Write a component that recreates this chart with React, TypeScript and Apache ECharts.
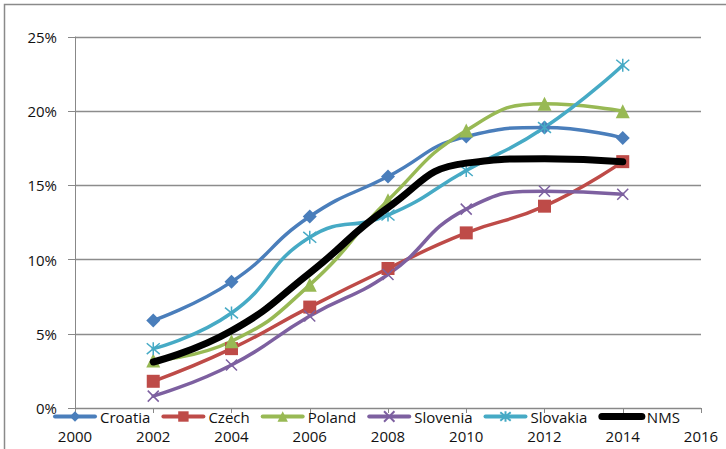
import React, { useEffect, useRef } from "react";
import * as echarts from "echarts";

const years = [2002, 2004, 2006, 2008, 2010, 2012, 2014];
const croatia = [5.9, 8.5, 12.9, 15.6, 18.3, 18.9, 18.2];
const czech = [1.8, 4.0, 6.8, 9.4, 11.8, 13.6, 16.6];
const poland = [3.2, 4.5, 8.3, 14.0, 18.7, 20.5, 20.0];
const slovenia = [0.8, 2.9, 6.2, 9.0, 13.4, 14.6, 14.4];
const slovakia = [4.0, 6.4, 11.5, 13.0, 16.0, 18.9, 23.1];
const nms = [3.1, 5.2, 9.1, 13.5, 16.5, 16.8, 16.6];

const xTicks = { min: 2000, max: 2016, step: 2 };
const yTicks = { min: 0, max: 25, step: 5 };

const pairs = (vals: number[]) => years.map((y, i) => [y, vals[i]]);

const X_SYM = "path://M0,0L10,10M10,0L0,10";
const STAR_SYM = "path://M0,0L10,10M10,0L0,10M5,-1L5,11";

export default function App() {
  const ref = useRef<HTMLDivElement>(null);
  useEffect(() => {
    if (!ref.current) return;
    const chart = echarts.init(ref.current, undefined, { renderer: "svg" });
    const font = "Open Sans";
    const mk = (
      name: string,
      data: number[],
      color: string,
      symbol: string,
      symbolSize: number,
      stroke = false
    ) => ({
      name,
      type: "line",
      data: pairs(data),
      smooth: 0.5,
      symbol,
      symbolSize,
      showSymbol: symbol !== "none",
      lineStyle: { color, width: name === "NMS" ? 7 : 3.5, cap: "round" },
      itemStyle: stroke
        ? { color, borderColor: color, borderWidth: 1.5 }
        : { color, borderColor: color, borderWidth: 0 },
      z: name === "NMS" ? 3 : 2,
    });
    const lg = (name: string, color: string) => ({ name, lineStyle: { width: 4, color } });
    chart.setOption({
      animation: false,
      backgroundColor: "#ffffff",
      textStyle: { fontFamily: font },
      grid: { left: 75, right: 25, top: 37, bottom: 41, containLabel: false },
      xAxis: {
        type: "value",
        min: xTicks.min,
        max: xTicks.max,
        interval: xTicks.step,
        axisLine: { show: true, lineStyle: { color: "#888888", width: 1 } },
        axisTick: { show: true, length: 5, lineStyle: { color: "#888888" } },
        splitLine: { show: false },
        axisLabel: {
          margin: 20,
          color: "#111111",
          fontSize: 15,
          fontFamily: font,
          formatter: (v: number) => String(v),
        },
      },
      yAxis: {
        type: "value",
        min: yTicks.min,
        max: yTicks.max,
        interval: yTicks.step,
        axisLine: { show: true, lineStyle: { color: "#888888", width: 1 } },
        axisTick: { show: true, length: 7, lineStyle: { color: "#888888" } },
        splitLine: { show: true, lineStyle: { color: "#8c8c8c", width: 1.3 } },
        axisLabel: {
          margin: 18,
          color: "#111111",
          fontSize: 15,
          fontFamily: font,
          formatter: "{value}%",
        },
      },
      legend: {
        left: 53,
        top: 409,
        itemWidth: 40,
        itemHeight: 13,
        itemGap: 11,
        padding: 0,
        textStyle: { fontSize: 15, color: "#111111", fontFamily: font, padding: [0, 0, 0, 0] },
        data: [
          lg("Croatia", "#4a7ebb"),
          lg("Czech", "#be4b48"),
          lg("Poland", "#98b954"),
          lg("Slovenia", "#7d60a0"),
          lg("Slovakia", "#46aac5"),
          { name: "NMS", itemStyle: { opacity: 0 }, lineStyle: { width: 7, color: "#000000", cap: "round" } },
        ],
      },
      graphic: [
        {
          type: "rect",
          shape: { x: 4.5, y: 4.5, width: 740, height: 460 },
          style: { fill: "none", stroke: "#8a8a8a", lineWidth: 1.5 },
          silent: true,
        },
      ],
      series: [
        mk("Croatia", croatia, "#4a7ebb", "diamond", 14),
        mk("Czech", czech, "#be4b48", "rect", 13),
        mk("Poland", poland, "#98b954", "triangle", 14),
        mk("Slovenia", slovenia, "#7d60a0", X_SYM, 11, true),
        mk("Slovakia", slovakia, "#46aac5", STAR_SYM, 13, true),
        mk("NMS", nms, "#000000", "none", 0),
      ],
    });
    return () => chart.dispose();
  }, []);
  return (
    <div
      ref={ref}
      style={{ position: "fixed", left: 0, top: 0, width: 726, height: 449, background: "#f0f0f0" }}
    />
  );
}
